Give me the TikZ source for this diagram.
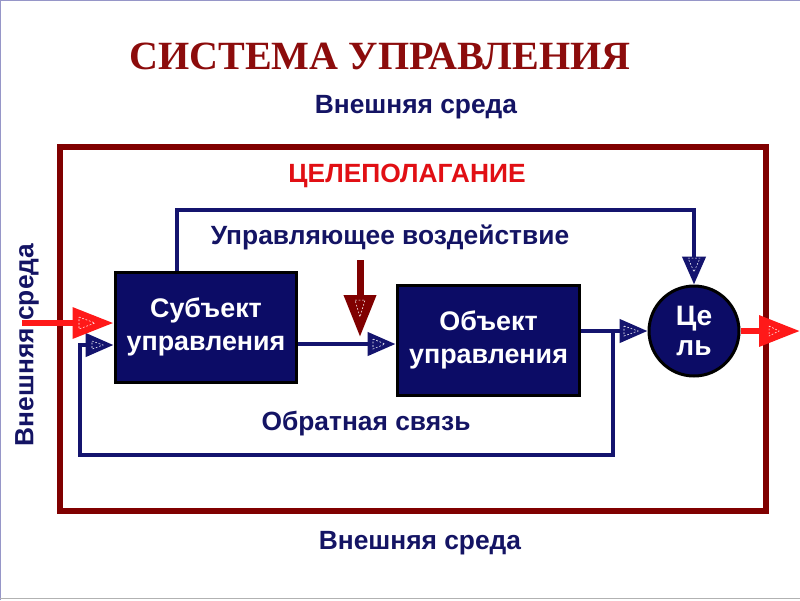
\documentclass[tikz,border=0pt]{standalone}
\usepackage{fontspec}
\setmainfont{Liberation Sans}
\newfontfamily\serifbold{Liberation Serif}
\usetikzlibrary{arrows.meta}
\definecolor{navy}{RGB}{12,12,102}
\definecolor{navyline}{RGB}{20,20,110}
\definecolor{darkred}{RGB}{128,0,0}
\definecolor{brightred}{RGB}{255,25,25}
\definecolor{titlered}{RGB}{140,12,12}
\definecolor{labelred}{RGB}{225,15,20}
\definecolor{labelblue}{RGB}{20,20,100}
\definecolor{slideborder}{RGB}{150,150,200}
\begin{document}
\begin{tikzpicture}[x=0.02cm,y=-0.02cm,
 lab/.style={font=\fontsize{15}{17}\selectfont\bfseries, text=labelblue, inner sep=0pt},
 box/.style={draw=black, line width=0.06cm, fill=navy, text=white, minimum width=3.64cm, minimum height=2.2cm, align=center, font=\fontsize{15.3}{19}\selectfont\bfseries},
 nline/.style={draw=navyline, line width=0.09cm},
 ntip/.style={-{Triangle[length=0.56cm,width=0.46cm]}},
 rline/.style={draw=brightred, line width=0.13cm, -{Triangle[length=0.82cm,width=0.6cm]}},
 dashtri/.style={draw=white, line width=0.3pt, dash pattern=on 1pt off 1pt}
]
\useasboundingbox (0,0) rectangle (800,600);
\fill[white] (0,0) rectangle (800,600);
\draw[slideborder, line width=0.02cm] (0.5,600) -- (0.5,0.5) -- (800,0.5);
\draw[gray!60, line width=0.02cm] (0,598.5) -- (800,598.5);

% title and labels
\node[font=\serifbold\fontsize{22.8}{26}\selectfont\bfseries, text=titlered, inner sep=0pt] (title) at (380,56) {СИСТЕМА УПРАВЛЕНИЯ};
\node[lab] (envtop) at (416,107) {Внешняя среда};
\node[lab, text=labelred] (goalset) at (407,176) {ЦЕЛЕПОЛАГАНИЕ};
\node[lab] (ctrl) at (390,237) {Управляющее воздействие};
\node[lab] (fbl) at (366,424) {Обратная связь};
\node[lab] (envbot) at (420,543) {Внешняя среда};
\node[lab, rotate=90] (envleft) at (27,345) {Внешняя среда};

% outer frame
\draw[darkred, line width=0.11cm] (60,147) rectangle (766,511);

% blocks
\node[box] (subj) at (206,327) {Субъект\\управления};
\node[box, minimum width=3.66cm] (obj) at (488.5,340) {Объект\\управления};
\node[circle, draw=black, line width=0.06cm, fill=navy, text=white, minimum size=1.8cm, inner sep=0pt, align=center, font=\fontsize{16}{17}\selectfont\bfseries] (goal) at (694,331) {Це\\ль};

% connectors
\coordinate (tl) at (177,210);
\coordinate (tr) at (694,210);
\draw[nline,ntip] (subj.north -| tl) -- (tl) -- (tr) -- (goal.north);
\coordinate (m1) at (340,344);
\draw[nline,ntip] (subj.east |- m1) -- (obj.west |- m1);
\draw[nline,ntip] (obj.east |- goal) -- (goal.west);
\coordinate (fb1) at (613,331);
\coordinate (fb2) at (613,455);
\coordinate (fb3) at (80,455);
\coordinate (fb4) at (80,345);
\draw[nline,ntip] (fb1) -- (fb2) -- (fb3) -- (fb4) -- (subj.west |- fb4);

% red arrows
\coordinate (rin) at (22,323);
\draw[rline] (rin) -- (subj.west |- rin);
\coordinate (rout) at (800,331);
\draw[rline] (goal.east) -- (rout);
\coordinate (dtop) at (360,260);
\coordinate (dbot) at (360,337);
\draw[draw=darkred, line width=0.14cm, -{Triangle[length=0.84cm,width=0.62cm]}] (dtop) -- (dbot);

% dashed marks inside tips
\draw[dashtri] (79,317) -- (95,323) -- (79,329) -- cycle;
\draw[dashtri] (92,341) -- (103,345) -- (92,349) -- cycle;
\draw[dashtri] (355,300) -- (365,300) -- (360,317) -- cycle;
\draw[dashtri] (373,339) -- (385,344) -- (373,349) -- cycle;
\draw[dashtri] (624,326) -- (638,331) -- (624,336) -- cycle;
\draw[dashtri] (688,258) -- (700,258) -- (694,272) -- cycle;
\draw[dashtri] (769,326) -- (779,331) -- (769,336) -- cycle;
\end{tikzpicture}
\end{document}
